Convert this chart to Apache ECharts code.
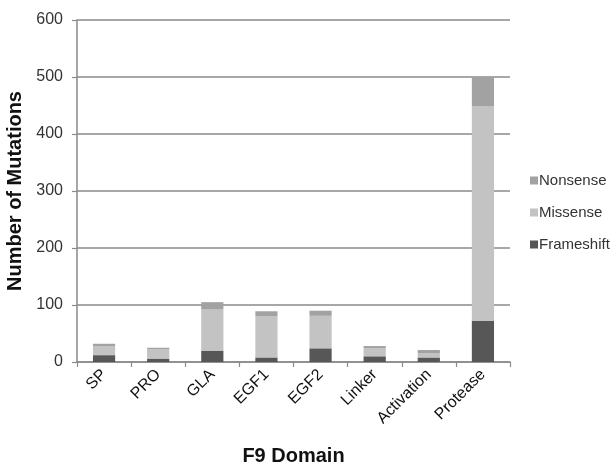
<!DOCTYPE html>
<html>
<head>
<meta charset="utf-8">
<script src="https://cdn.jsdelivr.net/npm/echarts@6/dist/echarts.min.js"></script>
<style>
  html, body { margin: 0; padding: 0; background: #fff; }
  #chart { width: 616px; height: 466px; }
</style>
</head>
<body>
<div id="chart"></div>
<script>
// F9 domains along the x axis
const domains = ['SP', 'PRO', 'GLA', 'EGF1', 'EGF2', 'Linker', 'Activation', 'Protease'];

// Mutation counts per domain, stacked bottom to top
const frameshift = [12, 6, 20, 8, 24, 10, 8, 72];
const missense   = [16, 16, 72, 72, 57, 14, 7, 377];
const nonsense   = [4, 3, 13, 9, 9, 4, 6, 51];

// Value axis ticks
const yTicks = [0, 100, 200, 300, 400, 500, 600];

const colors = { Frameshift: '#575757', Missense: '#c3c3c3', Nonsense: '#a2a2a2' };

const chart = echarts.init(document.getElementById('chart'));

const stackSeries = (name, data) => ({
  name, type: 'bar', stack: 'total', data,
  barWidth: '41%',
  itemStyle: { color: colors[name] },
  emphasis: { disabled: true }
});

chart.setOption({
  animation: false,
  textStyle: { fontFamily: 'Liberation Sans, Arial, sans-serif' },
  grid: {
    left: 77, right: 106, top: 20, bottom: 104,
    containLabel: false,
    outerBoundsMode: 'none'
  },
  legend: {
    orient: 'vertical',
    left: 530, top: 173,
    padding: 0,
    itemWidth: 8, itemHeight: 8, itemGap: 17,
    icon: 'rect',
    data: ['Nonsense', 'Missense', 'Frameshift'],
    textStyle: { fontSize: 15, color: '#333', padding: [0, 0, 0, -4] }
  },
  xAxis: {
    type: 'category',
    data: domains,
    name: 'F9 Domain',
    nameLocation: 'middle',
    nameGap: 84,
    nameTextStyle: { fontSize: 20, fontWeight: 'bold', color: '#111' },
    axisLine: { lineStyle: { color: '#8a8a8a', width: 1.5 } },
    axisTick: { show: true, length: 5, lineStyle: { color: '#8a8a8a', width: 1.2 } },
    axisLabel: { rotate: 45, fontSize: 16, color: '#111', margin: 10 }
  },
  yAxis: {
    type: 'value',
    min: yTicks[0], max: yTicks[yTicks.length - 1], interval: 100,
    name: 'Number of Mutations',
    nameLocation: 'middle',
    nameGap: 47,
    nameTextStyle: { fontSize: 20, fontWeight: 'bold', color: '#111' },
    axisLine: { show: true, lineStyle: { color: '#8a8a8a', width: 1.5 } },
    axisTick: { show: true, inside: false, length: 5, lineStyle: { color: '#8a8a8a', width: 1.2 } },
    axisLabel: { fontSize: 16, color: '#333', margin: 14 },
    splitLine: { show: true, lineStyle: { color: '#8a8a8a', width: 1.5 } }
  },
  series: [
    stackSeries('Frameshift', frameshift),
    stackSeries('Missense', missense),
    stackSeries('Nonsense', nonsense)
  ]
});
</script>
</body>
</html>
